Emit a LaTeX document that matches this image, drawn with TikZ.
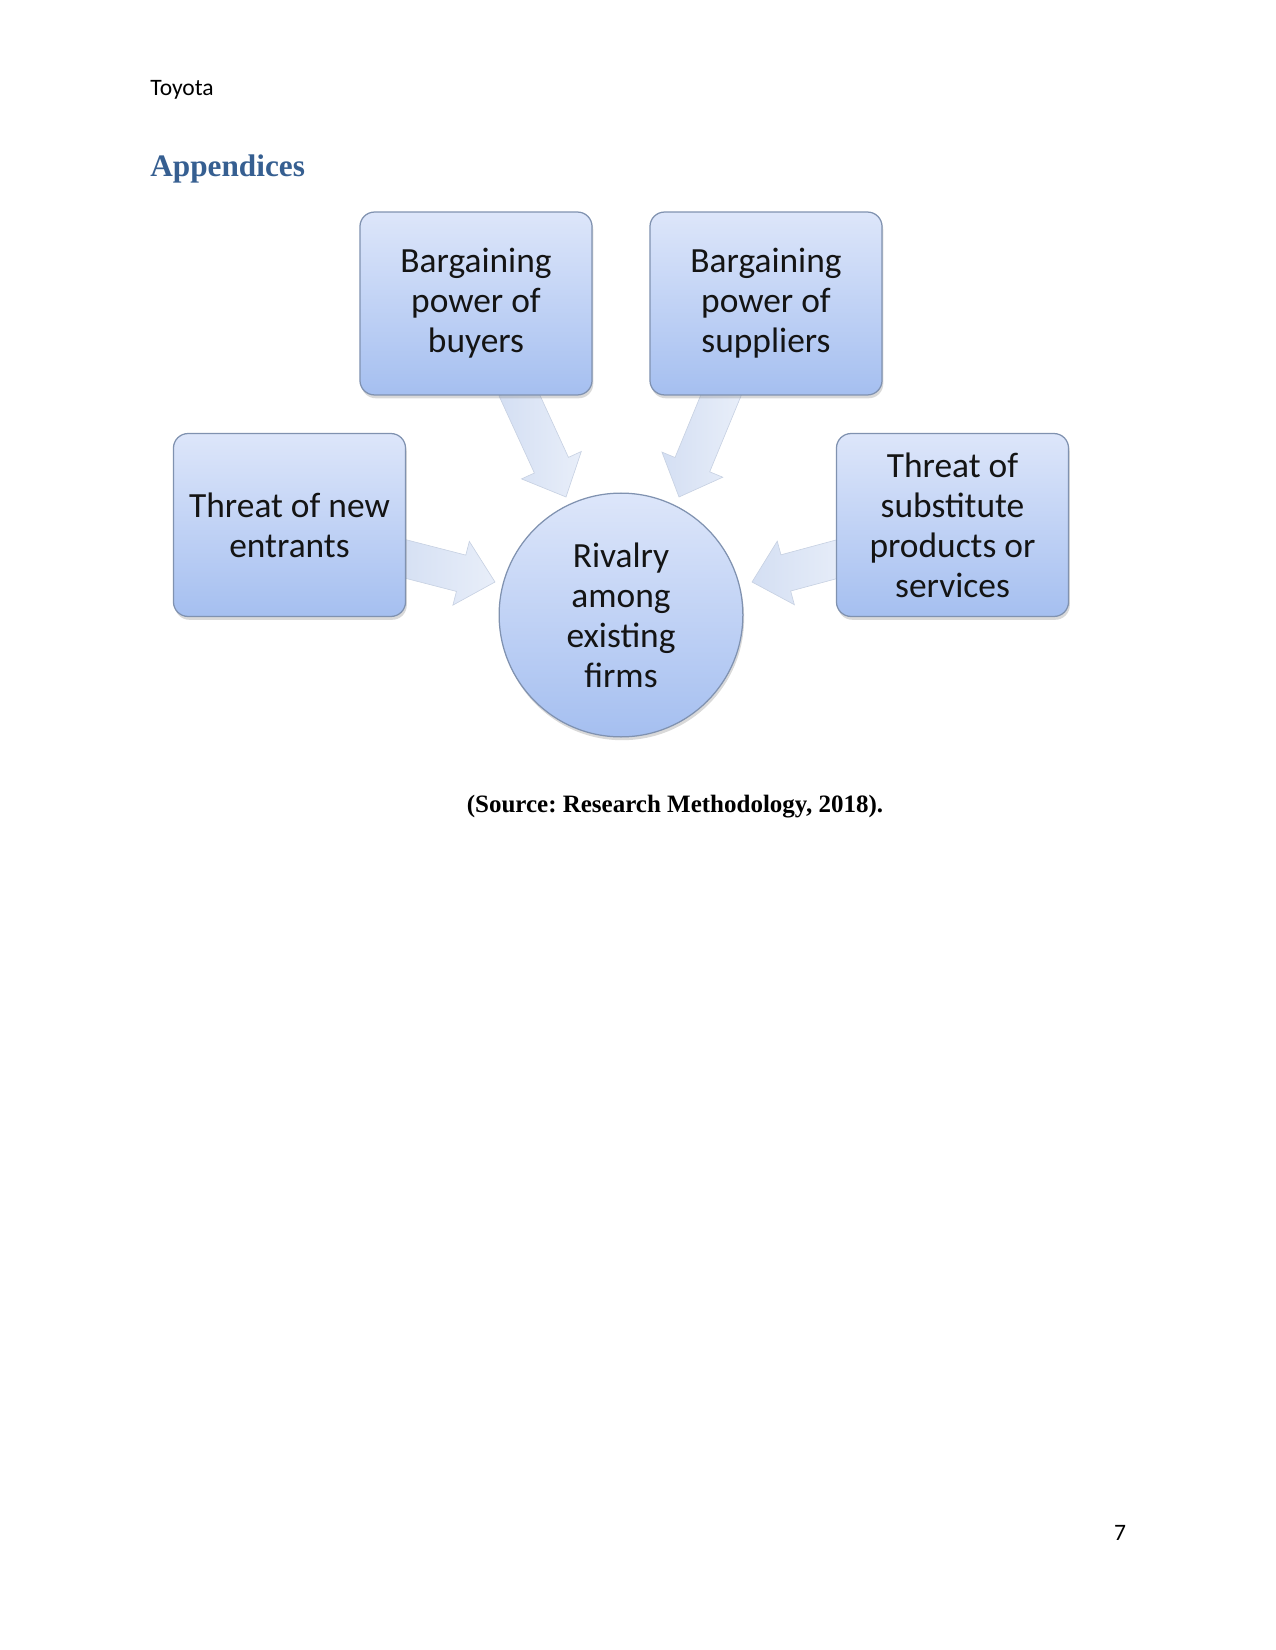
\documentclass[tikz,border=0pt]{standalone}
\usepackage{fontspec}
\setmainfont{Carlito}
\newfontfamily\capfont{Liberation Serif}
\usetikzlibrary{calc,shadows,backgrounds}
\definecolor{headblue}{HTML}{365F91}
\definecolor{boxtop}{RGB}{221,230,250}
\definecolor{boxbot}{RGB}{165,191,240}
\definecolor{boxline}{RGB}{128,146,176}
\definecolor{arrowfill}{RGB}{212,223,243}
\definecolor{arrowlight}{RGB}{232,238,249}
\tikzset{
  force/.style={rectangle, rounded corners=7pt, draw=boxline, line width=0.6pt,
    top color=boxtop, bottom color=boxbot,
    minimum width=111.4pt, minimum height=87.8pt, align=center, inner sep=1pt,
    font=\fontsize{17}{19.2}\selectfont, text=black!92,
    drop shadow={opacity=0.3, shadow xshift=0.6pt, shadow yshift=-1.6pt}},
  centre/.style={circle, draw=boxline, line width=0.6pt,
    top color=boxtop, bottom color=boxbot,
    minimum size=117pt, inner sep=0pt, align=center,
    font=\fontsize{17}{19.2}\selectfont, text=black!92,
    drop shadow={opacity=0.3, shadow xshift=0.6pt, shadow yshift=-1.6pt}},
  blockarr/.style={left color=arrowfill, right color=arrowlight, draw=arrowfill!85!gray, line width=0.3pt}
}
\newcommand\blockarrow[3]{%
  \coordinate (#3) at ($(#2)!16.8pt!(#1)$);
  \path[blockarr] ($(#1)!9pt!90:(#2)$) -- ($(#3)!9pt!90:(#2)$) -- ($(#3)!15.8pt!90:(#2)$)
    -- (#2) -- ($(#3)!15.8pt!-90:(#2)$) -- ($(#3)!9pt!-90:(#2)$) -- ($(#1)!9pt!-90:(#2)$) -- cycle;}
\begin{document}
\frenchspacing
\begin{tikzpicture}[x=0.48pt,y=-0.48pt]
\useasboundingbox (0,0) rectangle (1275,1650);

\node[anchor=base west, inner sep=0pt, font=\fontsize{11.3}{13}\selectfont] (hdr) at (150,96) {Toyota};
\node[anchor=base west, inner sep=0pt, font=\capfont\bfseries\fontsize{15}{18}\selectfont, text=headblue] (app) at (150,177) {Appendices};

\node[force] (buy) at (476,303.5) {Bargaining\\power of\\buyers};
\node[force] (sup) at (766,303.5) {Bargaining\\power of\\suppliers};
\node[force] (new) at (289.5,525) {Threat of new\\entrants};
\node[force] (sub) at (952.5,525) {Threat of\\substitute\\products or\\services};
\node[centre] (riv) at (621,615) {Rivalry\\among\\existing\\firms};

\coordinate (a1) at (516,388);
\coordinate (t1) at (566,497);
\coordinate (a2) at (724,388);
\coordinate (t2) at (679,497);
\coordinate (a3) at (398,557);
\coordinate (t3) at (495,582);
\coordinate (a4) at (845,557);
\coordinate (t4) at (752,582);

\begin{scope}[on background layer]
  \blockarrow{a1}{t1}{h1}
  \blockarrow{a2}{t2}{h2}
  \blockarrow{a3}{t3}{h3}
  \blockarrow{a4}{t4}{h4}
\end{scope}

\node[anchor=base, font=\capfont\bfseries\fontsize{12}{14}\selectfont] (src) at (675,812) {(Source: Research Methodology, 2018).};
\node[anchor=base, font=\fontsize{11.3}{13}\selectfont] (pg) at (1120,1540) {7};
\end{tikzpicture}
\end{document}
